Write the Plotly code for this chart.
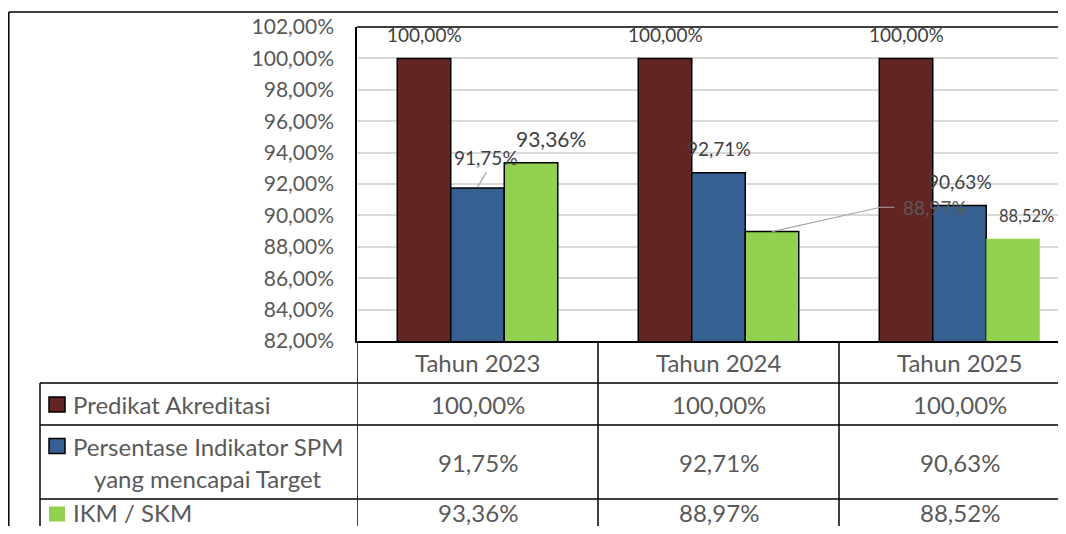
import plotly.graph_objects as go

categories = ["Tahun 2023", "Tahun 2024", "Tahun 2025"]
series_names = ["Predikat Akreditasi", "Persentase Indikator SPM yang mencapai Target", "IKM / SKM"]
predikat = [100.00, 100.00, 100.00]
spm = [91.75, 92.71, 90.63]
ikm = [93.36, 88.97, 88.52]
colors = ["#632523", "#366092", "#92d050"]
y_ticks = [82, 84, 86, 88, 90, 92, 94, 96, 98, 100, 102]

# the page puts an 8px body margin around the figure
OFF = 8
W, H = 1066 - OFF, 534 - 2 * OFF
L, T, B = 357 - OFF, 27 - OFF, 341 - OFF   # plot area edges
CAT_W = 241                               # pixels per category


def px(x):
    # screen x (reference picture) -> paper x
    return (x - OFF - L) / (W - L)


def py(y):
    # screen y (reference picture) -> paper y
    return (B - (y - OFF)) / (B - T)


def fmt(v):
    return f"{v:.2f}".replace(".", ",") + "%"


series = [predikat, spm, ikm]
x_idx = list(range(len(categories)))

fig = go.Figure()
for name, vals, col in zip(series_names, series, colors):
    fig.add_trace(go.Bar(
        x=x_idx, y=vals, name=name,
        marker=dict(color=col, line=dict(color="black",
                    width=[1.5, 1.5, 0] if vals is ikm else 1.5)),
        hoverinfo="skip",
    ))

bw = (1 - 0.334) / 3

# data labels (offsets)
for i, v in enumerate(predikat):
    fig.add_annotation(x=i - bw, y=v + 1.55, text=fmt(v), showarrow=False,
                       font=dict(family="Lato", color="#404040", size=19))
lab = [
    (0 + 0.037, spm[0] + 1.97, spm[0], 19),
    (0 + 0.303, ikm[0] + 1.57, ikm[0], 21),
    (1 + 0.0, spm[1] + 1.58, spm[1], 19),
    (2 - 0.101, ikm[1] + 1.53, ikm[1], 19),
    (2 + 0.0, spm[2] + 1.52, spm[2], 19),
    (2 + 0.278, ikm[2] + 1.44, ikm[2], 16.5),
]
for x, y, v, s in lab:
    c = "#595959" if v == ikm[1] else "#404040"
    fig.add_annotation(x=x, y=y, text=fmt(v), showarrow=False,
                       font=dict(family="Lato", color=c, size=s))

# leader lines
fig.add_shape(type="line", xref="x", yref="y", x0=0, y0=spm[0] + 0.05,
              x1=0.037, y1=spm[0] + 1.0, line=dict(color="#a6a6a6", width=1.2))
fig.add_shape(type="path", xref="x", yref="y",
              path=f"M {1 + bw},{ikm[1]} L 1.672,{ikm[1] + 1.55} L 1.730,{ikm[1] + 1.55}",
              line=dict(color="#a6a6a6", width=1.2))

line_k = dict(color="black", width=1.5)
# plot area top border
fig.add_shape(type="line", xref="paper", yref="paper", x0=0, x1=1.05, y0=1, y1=1, line=line_k)
# outer chart frame
fig.add_shape(type="line", xref="paper", yref="paper", x0=px(8.8), x1=1.05,
              y0=py(12), y1=py(12), line=line_k)
fig.add_shape(type="line", xref="paper", yref="paper", x0=px(8.8), x1=px(8.8),
              y0=py(12), y1=py(540), line=line_k)

# data table grid
row_lines = [383, 425, 499]
for yy in row_lines:
    fig.add_shape(type="line", xref="paper", yref="paper", x0=px(40), x1=1.05,
                  y0=py(yy), y1=py(yy), line=line_k)
fig.add_shape(type="line", xref="paper", yref="paper", x0=px(40), x1=px(40),
              y0=py(383), y1=py(540), line=line_k)
for i in range(len(categories)):
    fig.add_shape(type="line", xref="x", yref="paper", x0=i - 0.5, x1=i - 0.5,
                  y0=0, y1=py(540), line=line_k)

tbl_font = dict(family="Lato", color="#595959", size=24)
row_y = [404, 462, 513]
for i, c in enumerate(categories):
    fig.add_annotation(x=i, y=py(362), xref="x", yref="paper", text=c,
                       showarrow=False, font=tbl_font, xanchor="center", yanchor="middle")
    for r, vals in enumerate(series):
        fig.add_annotation(x=i, y=py(row_y[r]), xref="x", yref="paper",
                           text=fmt(vals[i]), showarrow=False, font=tbl_font,
                           xanchor="center", yanchor="middle")

# legend keys and row titles
key_y = [404.5, 446, 514]
for r, col in enumerate(colors):
    fig.add_shape(type="rect", xref="paper", yref="paper",
                  x0=px(49), x1=px(65), y0=py(key_y[r] - 7.5), y1=py(key_y[r] + 7.5),
                  fillcolor=col,
                  line=dict(color="black", width=1.5 if r < 2 else 0))
row_titles = [
    (71, 404, series_names[0], "left"),
    (71, 446, "Persentase Indikator SPM", "left"),
    (208, 478, "yang mencapai Target", "center"),
    (71, 513, series_names[2], "left"),
]
for x, y, txt, anc in row_titles:
    fig.add_annotation(x=px(x), y=py(y), xref="paper", yref="paper", text=txt,
                       showarrow=False, xanchor=anc, yanchor="middle", font=tbl_font)

fig.update_layout(
    width=W, height=H,
    margin=dict(l=L, r=0, t=T, b=H - B, pad=0),
    barmode="group", bargap=0.334, bargroupgap=0,
    plot_bgcolor="white", paper_bgcolor="white",
    showlegend=False,
)
fig.update_xaxes(
    range=[-0.5, -0.5 + (W - L) / CAT_W], showticklabels=False, ticks="",
    showgrid=False, showline=True, linecolor="black", linewidth=2, zeroline=False,
)
fig.update_yaxes(
    range=[y_ticks[0], y_ticks[-1]], tickmode="array", tickvals=y_ticks,
    ticktext=[fmt(v) for v in y_ticks],
    tickfont=dict(family="Lato", color="#595959", size=21),
    showgrid=True, gridcolor="#d9d9d9", gridwidth=1.5,
    showline=True, linecolor="black", linewidth=1.5, zeroline=False, ticks="",
    ticklabelstandoff=17,
)

fig.write_html("out.html")
